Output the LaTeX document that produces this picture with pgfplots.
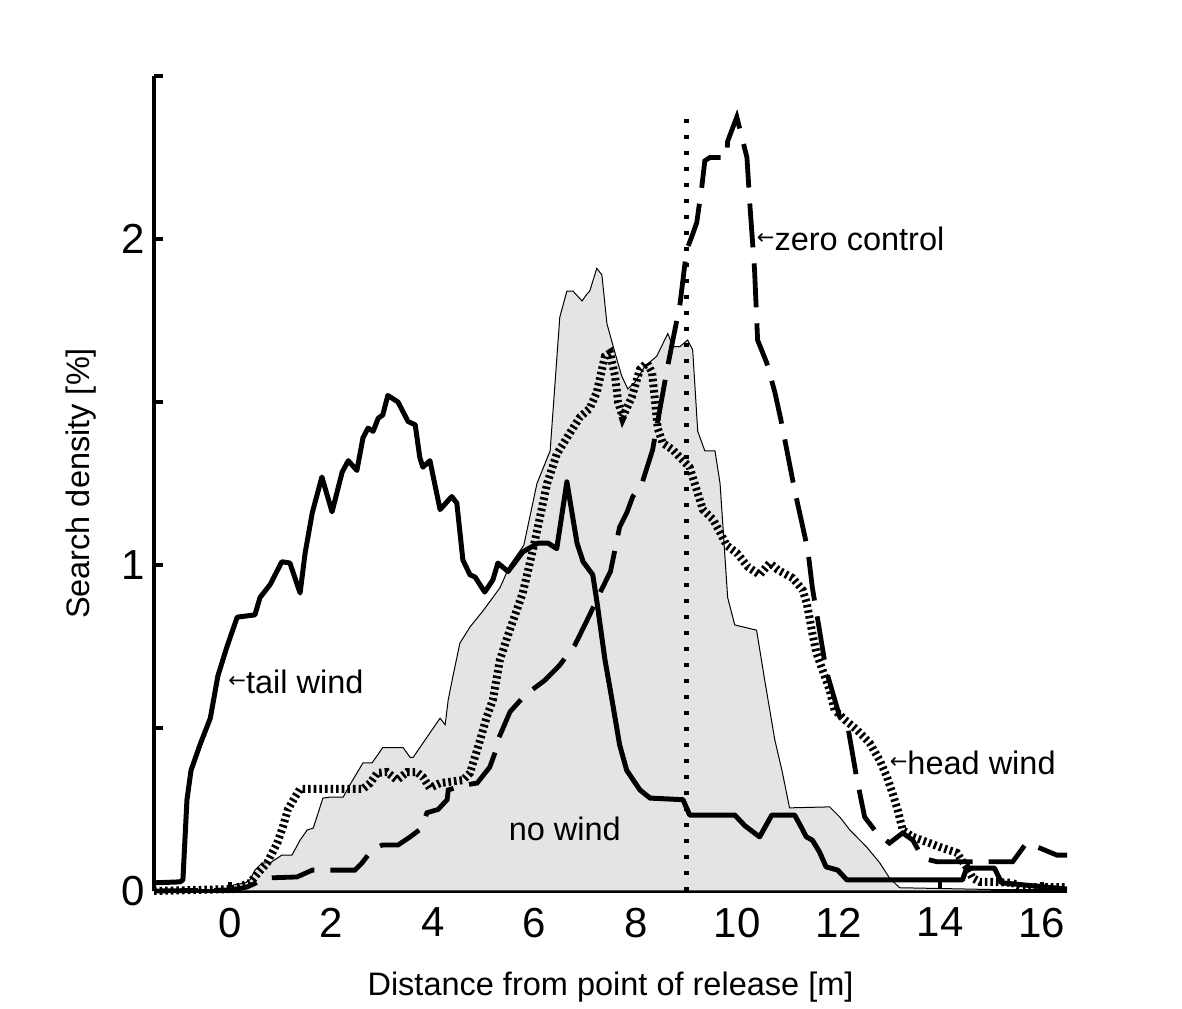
\documentclass[border=0pt]{standalone}
\usepackage{pgfplots}
\pgfplotsset{compat=1.18}
\usepackage{fontspec}
\setmainfont{Liberation Sans}
\newfontfamily\arrowfont{DejaVu Sans}
\definecolor{nowind}{RGB}{228,228,228}
\newcommand{\larr}{\raisebox{3.0pt}{\arrowfont\fontsize{10.5}{10.5}\selectfont ←}}

\begin{document}
\begin{tikzpicture}
\path (-77pt,-57.5pt) rectangle (514pt,445.5pt);
\begin{axis}[
  at={(0,0)}, anchor=south west,
  scale only axis, width=456.5pt, height=407.5pt,
  xmin=-1.5, xmax=16.5, ymin=0, ymax=2.5,
  axis lines*=left, axis line style={line width=2pt, -},
  xtick={0,2,...,16}, ytick={0,1,2}, minor ytick={0.5,1.5,2.5},
  tick align=inside,
  major tick length=4.5pt, minor tick length=4.5pt,
  tick style={black, line width=2pt},
  tick label style={font=\fontsize{21}{25}\selectfont},
  /pgf/number format/assume math mode=true,
  xticklabel style={yshift=-5pt},
  yticklabel style={xshift=-1pt},
  xlabel={Distance from point of release [m]},
  ylabel={Search density [\%]},
  label style={font=\fontsize{16.25}{19}\selectfont},
  xlabel style={at={(axis description cs:0.5,-0.118)}, anchor=center},
  ylabel style={at={(axis description cs:-0.08,0.5)}, anchor=center},
  clip=false,
]
% no wind (grey area)
\addplot[draw=black, line width=0.5pt, fill=nowind] table {
x y
-1.5 0
-0.04 0.003
0.06 0.018
0.30 0.025
0.39 0.034
0.49 0.064
0.63 0.086
0.79 0.086
1.02 0.11
1.22 0.11
1.38 0.156
1.52 0.187
1.64 0.193
1.83 0.285
1.97 0.288
2.23 0.288
2.36 0.325
2.62 0.393
2.80 0.393
3.01 0.44
3.41 0.44
3.55 0.41
3.61 0.41
3.94 0.485
4.14 0.53
4.24 0.51
4.30 0.586
4.39 0.656
4.53 0.76
4.73 0.81
4.99 0.86
5.32 0.93
5.52 1.0
5.79 1.06
6.05 1.25
6.31 1.35
6.50 1.76
6.64 1.84
6.76 1.84
6.94 1.81
7.03 1.83
7.09 1.84
7.23 1.91
7.33 1.89
7.43 1.74
7.59 1.65
7.72 1.58
7.84 1.54
7.98 1.56
8.18 1.61
8.41 1.64
8.63 1.71
8.73 1.67
8.87 1.67
9.02 1.69
9.12 1.66
9.22 1.41
9.36 1.35
9.56 1.35
9.66 1.25
9.81 0.90
9.95 0.816
10.38 0.80
10.54 0.647
10.74 0.463
10.88 0.37
11.03 0.255
11.82 0.258
12.02 0.227
12.22 0.187
12.55 0.135
12.81 0.086
13.0 0.04
13.20 0.01
16.5 0
} \closedcycle;
% vertical dotted line
\addplot[black, line width=2.2pt, dash pattern=on 2.2pt off 5.8pt] coordinates {(9,0) (9,2.4)};
% tail wind
\addplot[black, line width=2.5pt, line join=round] table {
x y
-1.5 0.025
-0.985 0.028
-0.93 0.034
-0.85 0.28
-0.77 0.37
-0.59 0.45
-0.39 0.53
-0.24 0.66
-0.06 0.75
0.14 0.84
0.49 0.847
0.59 0.90
0.79 0.94
1.02 1.01
1.18 1.006
1.38 0.914
1.48 1.037
1.62 1.16
1.81 1.27
2.01 1.163
2.21 1.285
2.33 1.32
2.50 1.29
2.62 1.39
2.72 1.42
2.82 1.41
2.92 1.45
3.01 1.46
3.11 1.52
3.31 1.50
3.51 1.44
3.65 1.43
3.74 1.33
3.80 1.30
3.94 1.32
4.14 1.17
4.37 1.21
4.47 1.19
4.59 1.015
4.73 0.97
4.83 0.963
5.02 0.917
5.18 0.954
5.28 1.006
5.48 0.98
5.77 1.04
6.07 1.067
6.27 1.067
6.44 1.05
6.64 1.255
6.84 1.067
6.96 1.01
7.15 0.97
7.23 0.89
7.39 0.71
7.53 0.586
7.68 0.448
7.82 0.37
8.08 0.31
8.28 0.285
8.93 0.28
9.06 0.233
9.95 0.233
10.15 0.20
10.44 0.166
10.68 0.233
11.13 0.233
11.26 0.196
11.36 0.166
11.48 0.156
11.62 0.12
11.75 0.074
11.98 0.064
12.16 0.034
14.44 0.034
14.52 0.07
15.07 0.07
15.21 0.025
16.5 0.006
};
% head wind
\addplot[black, line width=4pt, dash pattern=on 1.3pt off 1.5pt] table {
x y
-1.5 0
0.06 0.006
0.39 0.025
0.55 0.055
0.73 0.086
0.93 0.147
1.04 0.196
1.14 0.25
1.28 0.288
1.38 0.313
2.62 0.313
2.76 0.331
2.90 0.362
3.09 0.365
3.29 0.34
3.49 0.365
3.68 0.365
3.80 0.35
3.94 0.316
4.14 0.331
4.59 0.34
4.73 0.362
4.93 0.463
5.06 0.534
5.18 0.586
5.32 0.709
5.48 0.785
5.77 0.914
5.97 1.046
6.11 1.147
6.25 1.25
6.44 1.34
6.70 1.405
6.90 1.454
7.09 1.48
7.23 1.53
7.39 1.64
7.49 1.65
7.59 1.58
7.65 1.50
7.74 1.454
7.92 1.515
8.08 1.60
8.22 1.62
8.32 1.59
8.37 1.515
8.43 1.42
8.53 1.374
8.73 1.353
8.93 1.32
9.06 1.30
9.20 1.23
9.32 1.17
9.52 1.14
9.66 1.10
9.79 1.06
9.99 1.037
10.21 0.994
10.44 0.97
10.64 1.006
10.80 0.985
11.09 0.96
11.29 0.923
11.37 0.883
11.48 0.79
11.56 0.73
11.68 0.678
11.82 0.617
11.92 0.555
12.12 0.525
12.36 0.494
12.61 0.454
12.81 0.40
12.95 0.35
13.06 0.30
13.16 0.25
13.26 0.187
13.46 0.166
13.79 0.147
13.99 0.135
14.33 0.117
14.42 0.095
14.52 0.074
14.64 0.04
14.78 0.028
15.03 0.028
15.43 0.025
15.57 0.012
16.5 0.012
};
% zero control
\addplot[black, line width=2.4pt, dash pattern=on 22pt off 8pt] table {
x y
-1.5 0
0 0.003
0.33 0.012
0.73 0.04
1.32 0.043
1.62 0.064
2.46 0.064
2.60 0.086
2.80 0.126
3.0 0.141
3.31 0.141
3.55 0.166
3.78 0.193
3.88 0.24
4.10 0.25
4.28 0.28
4.30 0.31
4.63 0.325
4.87 0.331
5.12 0.38
5.26 0.44
5.28 0.463
5.52 0.55
5.81 0.60
6.21 0.647
6.50 0.693
6.80 0.755
7.09 0.847
7.29 0.914
7.50 0.98
7.68 1.117
7.82 1.16
7.94 1.21
8.12 1.25
8.33 1.353
8.62 1.604
8.87 1.80
9.0 1.966
9.10 2.006
9.20 2.05
9.30 2.16
9.36 2.24
9.46 2.25
9.79 2.25
9.81 2.30
9.99 2.374
10.11 2.30
10.19 2.25
10.25 2.10
10.34 1.905
10.40 1.69
10.58 1.62
10.74 1.53
10.86 1.445
11.13 1.23
11.39 1.046
11.48 0.93
11.62 0.80
11.75 0.678
12.02 0.534
12.18 0.503
12.35 0.35
12.51 0.227
12.75 0.178
13.0 0.147
13.26 0.178
13.46 0.156
13.66 0.10
13.93 0.09
15.43 0.09
15.70 0.147
15.96 0.132
16.30 0.11
16.5 0.11
};
% annotations
\node[anchor=base west, inner sep=0pt, font=\fontsize{16.25}{19}\selectfont] at (axis cs:-0.04,0.607) {\larr tail wind};
\node[anchor=base west, inner sep=0pt, font=\fontsize{16.25}{19}\selectfont] at (axis cs:10.38,1.966) {\larr zero control};
\node[anchor=base west, inner sep=0pt, font=\fontsize{16.25}{19}\selectfont] at (axis cs:13.0,0.356) {\larr head wind};
\node[anchor=base, inner sep=0pt, font=\fontsize{16.25}{19}\selectfont] at (axis cs:6.6,0.156) {no wind};
\end{axis}
\end{tikzpicture}
\end{document}
